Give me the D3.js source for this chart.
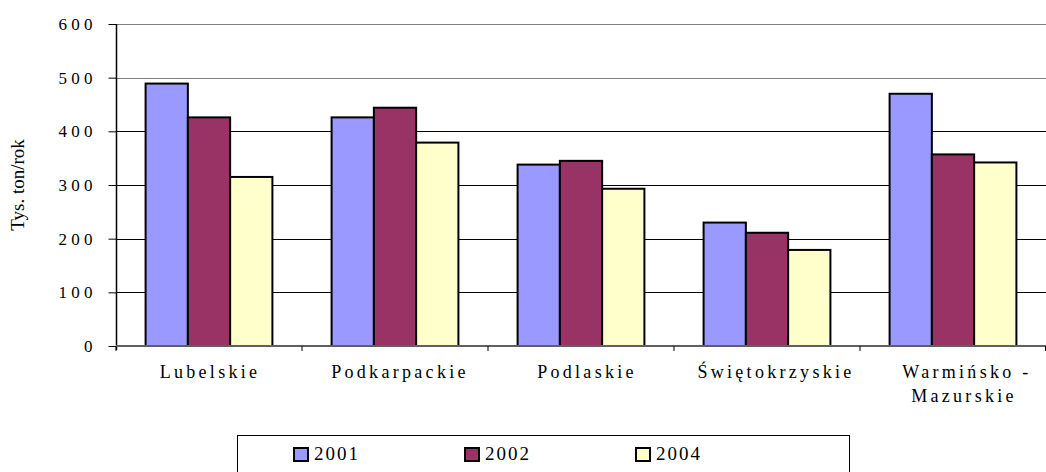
<!DOCTYPE html>
<html><head><meta charset="utf-8">
<script src="https://cdn.jsdelivr.net/npm/d3@7"></script>
<style>body{margin:0;background:#fff}text{font-family:"Liberation Serif","Times New Roman","DejaVu Serif",serif;fill:#000}</style>
</head><body><svg id="c" width="1046" height="472"></svg>
<script>
const categories = ["Lubelskie","Podkarpackie","Podlaskie","Świętokrzyskie","Warmińsko -|Mazurskie"];
const seriesNames = ["2001","2002","2004"];
const v2001 = [489,426,338,230,470];
const v2002 = [426,444,345,211,357];
const v2004 = [315,379,293,179,342];
const yTicks = [0,100,200,300,400,500,600];
const colors = ["#9999FF","#993366","#FFFFCC"];
const series = [v2001,v2002,v2004];

const svg = d3.select("#c");
const L=116,R=1046,T=24,B=346;
const x0 = d3.scaleBand().domain(categories).range([L,R]);
const x1 = d3.scaleBand().domain(seriesNames).range([0,x0.bandwidth()]).paddingOuter(0.7).paddingInner(0);
const y = d3.scaleLinear().domain([0,600]).range([B,T]);

// gridlines
svg.append("g").selectAll("line").data(yTicks.filter(d=>d>0)).join("line")
  .attr("x1",L).attr("x2",R).attr("y1",d=>Math.round(y(d))+0.5).attr("y2",d=>Math.round(y(d))+0.5)
  .attr("stroke",d=>d>=500?"#808080":"#000").attr("stroke-width",1);

// bars
const g = svg.append("g");
categories.forEach((c,i)=>{
  series.forEach((s,j)=>{
    g.append("rect").attr("x",x0(c)+x1(seriesNames[j])).attr("y",y(s[i]))
      .attr("width",x1.bandwidth()).attr("height",y(0)-y(s[i]))
      .attr("fill",colors[j]).attr("stroke","#000").attr("stroke-width",2);
  });
});

// y axis
const ya = svg.append("g").attr("transform",`translate(${L+0.5},0)`)
  .call(d3.axisLeft(y).tickValues(yTicks).tickSize(8).tickPadding(16).tickFormat(d=>String(d).split("").join(" ")));
ya.select(".domain").attr("d",`M0,${T}V${B+4}`).attr("stroke","#000").attr("stroke-width",1.5);
ya.selectAll(".tick line").attr("stroke","#000");
ya.selectAll("text").attr("font-size",17).attr("font-family",null).attr("dy","0.32em");

// x axis
svg.append("line").attr("x1",L).attr("x2",R).attr("y1",B).attr("y2",B).attr("stroke","#606060").attr("stroke-width",2);
svg.append("g").selectAll("line").data(categories.map(c=>x0(c)).concat([R])).join("line")
  .attr("x1",d=>Math.min(d,R-0.5)).attr("x2",d=>Math.min(d,R-0.5)).attr("y1",B).attr("y2",B+5).attr("stroke","#000");
const labelNudge = [[1],[5],[6],[9],[14,11]];
const xl = svg.append("g");
categories.forEach((c,i)=>{
  const t = xl.append("text").attr("y",378)
    .attr("text-anchor","middle").attr("font-size",18).style("letter-spacing","3.3px");
  c.split("|").forEach((line,k)=>{
    t.append("tspan").attr("x",x0(c)+x0.bandwidth()/2+labelNudge[i][k]).attr("dy",k?24:0).text(line);
  });
});

// y title
svg.append("text").attr("transform","translate(24,185) rotate(-90)").attr("text-anchor","middle")
  .attr("font-size",19).text("Tys. ton/rok");

// legend
svg.append("rect").attr("x",237.5).attr("y",435.5).attr("width",612).attr("height",60).attr("fill","#fff").attr("stroke","#000");
const lx = [294,465,636];
seriesNames.forEach((n,j)=>{
  svg.append("rect").attr("x",lx[j]).attr("y",448).attr("width",14).attr("height",13).attr("fill",colors[j]).attr("stroke","#000").attr("stroke-width",2);
  svg.append("text").attr("x",lx[j]+20).attr("y",460).attr("font-size",19).style("letter-spacing","2px").text(n);
});
</script></body></html>
